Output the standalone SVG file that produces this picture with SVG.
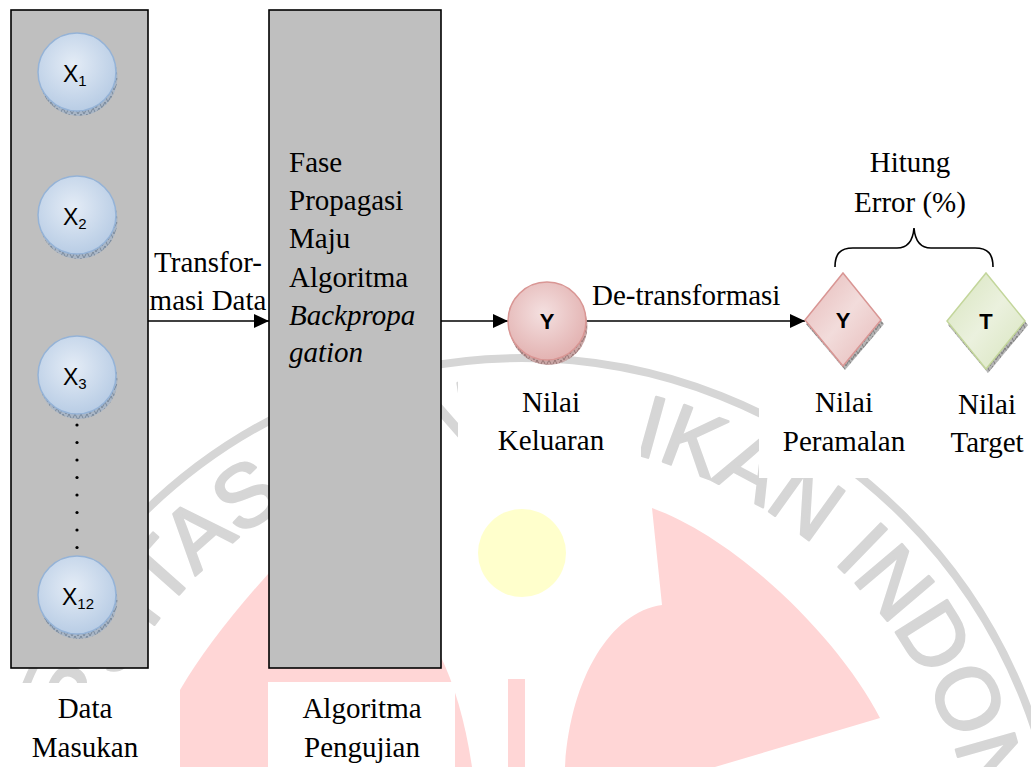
<svg xmlns="http://www.w3.org/2000/svg" width="1031" height="767" viewBox="0 0 1031 767">
  <defs>
    <style>
      .t { font-family: "Liberation Serif", "Times New Roman", serif; font-size: 29px; fill: #000; }
      .c { text-anchor: middle; }
      .it { font-style: italic; }
      .panel { fill: #bfbfbf; stroke: #000; stroke-width: 1.6; }
      .wire { stroke: #000; stroke-width: 1.6; fill: none; }
      .lbl { font-family: "Liberation Sans", Arial, sans-serif; fill: #000; }
      .xs { font-size: 23px; }
      .sub { font-size: 15px; }
      .bold { font-family: "Liberation Sans", Arial, sans-serif; font-weight: bold; font-size: 22px; text-anchor: middle; fill: #000; }
      .wm { fill: #d6d6d6; stroke: #d6d6d6; stroke-width: 2.5; stroke-linejoin: round; }
      .wmring { fill: none; stroke: #d6d6d6; stroke-width: 8; }
      .wmred { fill: #ffd6d6; }
      .blank { fill: #fff; }
      .blueNode { fill: url(#gBlue); stroke: #95b3d7; stroke-width: 1.5; }
      .redNode { fill: url(#gRed); stroke: #d99694; stroke-width: 1.5; }
    </style>
    <radialGradient id="gBlue" cx="45%" cy="40%" r="60%">
      <stop offset="0" stop-color="#e4ecf6"/>
      <stop offset="1" stop-color="#b9cde5"/>
    </radialGradient>
    <radialGradient id="gRed" cx="45%" cy="40%" r="60%">
      <stop offset="0" stop-color="#f4e0e0"/>
      <stop offset="1" stop-color="#e3b3b2"/>
    </radialGradient>
    <linearGradient id="gRedD" x1="0" y1="0" x2="1" y2="1">
      <stop offset="0" stop-color="#e6b9b8"/>
      <stop offset="0.5" stop-color="#f2dcdb"/>
      <stop offset="1" stop-color="#e6b9b8"/>
    </linearGradient>
    <linearGradient id="gGreen" x1="0" y1="0" x2="1" y2="1">
      <stop offset="0" stop-color="#d7e4bd"/>
      <stop offset="0.5" stop-color="#ebf1de"/>
      <stop offset="1" stop-color="#d7e4bd"/>
    </linearGradient>
    <pattern id="hBlue" width="6" height="6" patternUnits="userSpaceOnUse">
      <rect width="6" height="6" fill="#a9b6c6"/>
      <path d="M0,6 L3,0 L6,6" stroke="#6b7b8f" stroke-width="0.8" fill="none"/>
    </pattern>
    <pattern id="hRed" width="6" height="6" patternUnits="userSpaceOnUse">
      <rect width="6" height="6" fill="#c9a6a5"/>
      <path d="M0,6 L3,0 L6,6" stroke="#8a6867" stroke-width="0.8" fill="none"/>
    </pattern>
    <pattern id="hGray" width="6" height="6" patternUnits="userSpaceOnUse">
      <rect width="6" height="6" fill="#b5b5b5"/>
      <path d="M0,6 L3,0 L6,6" stroke="#6f6f6f" stroke-width="0.8" fill="none"/>
    </pattern>
    <marker id="arrow" markerWidth="15" markerHeight="14" refX="15" refY="7" orient="auto" markerUnits="userSpaceOnUse">
      <path d="M0,0 L15,7 L0,14 Z" fill="#000"/>
    </marker>
    <path id="wmArc" d="M125.4,1127 A458,458 0 1,1 918.6,1127"/>
  </defs>

  <rect width="1031" height="767" fill="#fff"/>

  <!-- background emblem -->
  <g id="emblem">
    <circle class="wmring" cx="522" cy="898" r="540"/>
    <text font-family="Liberation Sans, Arial, sans-serif" font-size="88" class="wm">
      <textPath href="#wmArc" startOffset="133">UNIVERSITAS PENDIDIKAN INDONESIA</textPath>
    </text>
    <path class="wmred" d="M290,550 Q215,630 180,690 L180,767 L472,767 Q462,700 440,655 Z"/>
    <rect class="wmred" x="508" y="679" width="17" height="90"/>
    <path class="wmred" d="M652,508 C740,540 840,640 880,718 L715,767 L565,790 L565,767 C570,680 610,612 662,605 Z"/>
    <circle cx="522" cy="553" r="44" fill="#ffffcc"/>
  </g>

  <!-- panels -->
  <g id="panel-input">
    <rect class="panel" x="11" y="10" width="137" height="658"/>
  </g>
  <g id="panel-algorithm">
    <rect class="panel" x="269" y="10" width="172" height="658"/>
    <text class="t" x="289" y="172">Fase</text>
    <text class="t" x="289" y="210">Propagasi</text>
    <text class="t" x="289" y="248">Maju</text>
    <text class="t" x="289" y="287">Algoritma</text>
    <text class="t it" x="289" y="325">Backpropa</text>
    <text class="t it" x="289" y="362">gation</text>
  </g>

  <!-- caption backgrounds -->
  <g id="caption-blanks">
    <rect class="blank" x="0" y="683" width="176" height="84"/>
    <rect class="blank" x="268" y="682" width="187" height="85"/>
    <rect class="blank" x="458" y="378" width="183" height="103"/>
    <rect class="blank" x="759" y="376" width="272" height="102"/>
  </g>

  <!-- connectors -->
  <g id="connectors">
    <line class="wire" x1="148" y1="321" x2="269" y2="321" marker-end="url(#arrow)"/>
    <line class="wire" x1="441" y1="321" x2="508" y2="321" marker-end="url(#arrow)"/>
    <line class="wire" x1="586" y1="321" x2="805" y2="321" marker-end="url(#arrow)"/>
    <path class="wire" stroke-width="2" d="M835,267 C835,254 840,248 853,248 L897,248 C908,248 913,240 914,228 C915,240 920,248 931,248 L975,248 C988,248 993,254 993,267"/>
    <g fill="#000">
      <circle cx="77" cy="425" r="1.6"/>
      <circle cx="77" cy="442.5" r="1.6"/>
      <circle cx="77" cy="460" r="1.6"/>
      <circle cx="77" cy="477.5" r="1.6"/>
      <circle cx="77" cy="495" r="1.6"/>
      <circle cx="77" cy="512.5" r="1.6"/>
      <circle cx="77" cy="530" r="1.6"/>
      <circle cx="77" cy="547.5" r="1.6"/>
    </g>
  </g>

  <!-- input nodes -->
  <g id="node-x1">
    <circle cx="78.5" cy="77" r="39" fill="url(#hBlue)"/>
    <circle class="blueNode" cx="77" cy="72" r="39"/>
    <text class="lbl xs" x="63" y="82">X<tspan class="sub" dy="4">1</tspan></text>
  </g>
  <g id="node-x2">
    <circle cx="78.5" cy="220" r="39" fill="url(#hBlue)"/>
    <circle class="blueNode" cx="77" cy="215" r="39"/>
    <text class="lbl xs" x="63" y="225">X<tspan class="sub" dy="4">2</tspan></text>
  </g>
  <g id="node-x3">
    <circle cx="78.5" cy="380" r="39" fill="url(#hBlue)"/>
    <circle class="blueNode" cx="77" cy="375" r="39"/>
    <text class="lbl xs" x="63" y="385">X<tspan class="sub" dy="4">3</tspan></text>
  </g>
  <g id="node-x12">
    <circle cx="78.5" cy="600" r="39" fill="url(#hBlue)"/>
    <circle class="blueNode" cx="77" cy="595" r="39"/>
    <text class="lbl xs" x="62" y="605">X<tspan class="sub" dy="4">12</tspan></text>
  </g>

  <!-- output node -->
  <g id="node-output">
    <circle cx="548.5" cy="326" r="39" fill="url(#hRed)"/>
    <circle class="redNode" cx="547" cy="321" r="39"/>
    <text class="bold" x="547" y="329">Y</text>
  </g>

  <!-- forecast node -->
  <g id="node-forecast">
    <path d="M845,277 L884,324 L845,370 L806,324 Z" fill="url(#hGray)"/>
    <path d="M843,273 L881,320 L843,366 L805,320 Z" fill="url(#gRedD)" stroke="#d99694" stroke-width="1.5"/>
    <text class="bold" x="843" y="328">Y</text>
  </g>

  <!-- target node -->
  <g id="node-target">
    <path d="M988,277 L1028,325 L988,373 L948,325 Z" fill="url(#hGray)"/>
    <path d="M986,273 L1025,321 L986,369 L947,321 Z" fill="url(#gGreen)" stroke="#c3d69b" stroke-width="1.5"/>
    <text class="bold" x="986" y="329">T</text>
  </g>

  <!-- labels -->
  <g id="labels">
    <text class="t c" x="208" y="272">Transfor-</text>
    <text class="t c" x="208" y="310">masi Data</text>
    <text class="t" x="592" y="305">De-transformasi</text>
    <text class="t c" x="910" y="172">Hitung</text>
    <text class="t c" x="910" y="212">Error (%)</text>
    <text class="t c" x="551" y="412">Nilai</text>
    <text class="t c" x="551" y="450">Keluaran</text>
    <text class="t c" x="844" y="412">Nilai</text>
    <text class="t c" x="844" y="451">Peramalan</text>
    <text class="t c" x="987" y="414">Nilai</text>
    <text class="t c" x="987" y="452">Target</text>
    <text class="t c" x="85" y="718">Data</text>
    <text class="t c" x="85" y="757">Masukan</text>
    <text class="t c" x="362" y="718">Algoritma</text>
    <text class="t c" x="362" y="757">Pengujian</text>
  </g>
</svg>
